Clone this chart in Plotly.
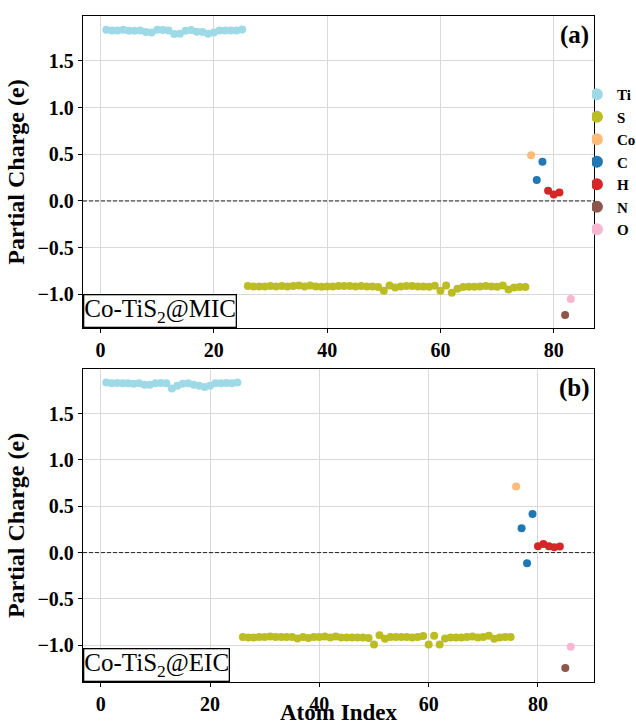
import plotly.graph_objects as go

# ---------------- data ----------------
elements = ["Ti", "S", "Co", "C", "H", "N", "O"]
colors = {"Ti": "#9edae5", "S": "#bcbd22", "Co": "#ffbb78", "C": "#1f77b4",
          "H": "#d62728", "N": "#8c564b", "O": "#f7b6d2"}

# Panel (a) Co-TiS2@MIC
a_ti_idx = list(range(1, 26))
a_ti = [1.833, 1.826, 1.826, 1.833, 1.822, 1.822, 1.826, 1.808, 1.804, 1.833,
        1.830, 1.826, 1.786, 1.790, 1.822, 1.830, 1.811, 1.808, 1.790, 1.804,
        1.826, 1.826, 1.826, 1.826, 1.836]
a_s_idx = list(range(26, 76))
a_s = [-0.911, -0.915, -0.915, -0.915, -0.911, -0.915, -0.911, -0.915, -0.911, -0.904,
       -0.915, -0.904, -0.915, -0.918, -0.915, -0.915, -0.911, -0.911, -0.911, -0.915,
       -0.911, -0.915, -0.915, -0.922, -0.961, -0.904, -0.926, -0.915, -0.911, -0.911,
       -0.915, -0.915, -0.918, -0.908, -0.961, -0.904, -0.983, -0.940, -0.922, -0.918,
       -0.918, -0.915, -0.911, -0.915, -0.918, -0.904, -0.947, -0.926, -0.922, -0.922]
a_co_idx = [76]
a_co = [0.49]
a_c_idx = [77, 78]
a_c = [0.225, 0.42]
a_h_idx = [79, 80, 81]
a_h = [0.11, 0.07, 0.09]
a_n_idx = [82]
a_n = [-1.22]
a_o_idx = [83]
a_o = [-1.05]

# Panel (b) Co-TiS2@EIC
b_ti_idx = list(range(1, 26))
b_ti = [1.833, 1.826, 1.830, 1.826, 1.826, 1.822, 1.826, 1.810, 1.810, 1.826,
        1.830, 1.826, 1.770, 1.800, 1.822, 1.826, 1.810, 1.800, 1.785, 1.800,
        1.826, 1.826, 1.830, 1.826, 1.833]
b_s_idx = list(range(26, 76))
b_s = [-0.910, -0.915, -0.915, -0.910, -0.910, -0.905, -0.910, -0.910, -0.910, -0.910,
       -0.925, -0.910, -0.920, -0.910, -0.910, -0.905, -0.915, -0.905, -0.915, -0.915,
       -0.915, -0.915, -0.915, -0.920, -0.990, -0.890, -0.930, -0.910, -0.910, -0.910,
       -0.910, -0.915, -0.910, -0.900, -0.990, -0.895, -0.990, -0.925, -0.915, -0.915,
       -0.915, -0.910, -0.905, -0.915, -0.910, -0.895, -0.930, -0.915, -0.910, -0.910]
b_co_idx = [76]
b_co = [0.712]
b_c_idx = [77, 78, 79]
b_c = [0.263, -0.114, 0.417]
b_h_idx = [80, 81, 82, 83, 84]
b_h = [0.069, 0.094, 0.069, 0.058, 0.065]
b_n_idx = [85]
b_n = [-1.244]
b_o_idx = [86]
b_o = [-1.014]

panel_a = {"Ti": (a_ti_idx, a_ti), "S": (a_s_idx, a_s), "Co": (a_co_idx, a_co),
           "C": (a_c_idx, a_c), "H": (a_h_idx, a_h), "N": (a_n_idx, a_n), "O": (a_o_idx, a_o)}
panel_b = {"Ti": (b_ti_idx, b_ti), "S": (b_s_idx, b_s), "Co": (b_co_idx, b_co),
           "C": (b_c_idx, b_c), "H": (b_h_idx, b_h), "N": (b_n_idx, b_n), "O": (b_o_idx, b_o)}

x_ticks = [0, 20, 40, 60, 80]
y_ticks = [-1.0, -0.5, 0.0, 0.5, 1.0, 1.5]

FONT = "Liberation Serif"

fig = go.Figure()
for el in elements:
    xs, ys = panel_a[el]
    fig.add_trace(go.Scatter(x=xs, y=ys, mode="markers", name=el,
                             marker=dict(color=colors[el], size=8, line=dict(width=0)),
                             xaxis="x", yaxis="y"))
for el in elements:
    xs, ys = panel_b[el]
    fig.add_trace(go.Scatter(x=xs, y=ys, mode="markers", name=el,
                             showlegend=False,
                             marker=dict(color=colors[el], size=8, line=dict(width=0)),
                             xaxis="x2", yaxis="y2"))

axis_common = dict(showline=True, mirror=True, linecolor="black", linewidth=1.3,
                   ticks="outside", ticklen=4, tickwidth=1, tickcolor="black",
                   showgrid=True, gridcolor="#d9d9d9", gridwidth=1, zeroline=False,
                   tickfont=dict(family=FONT, size=20, color="black", weight="bold"))

ytitle_font = dict(family=FONT, size=24, color="black", weight="bold")

fig.update_layout(
    width=636, height=727,
    margin=dict(l=83, r=42, t=16, b=45, autoexpand=False),
    plot_bgcolor="white", paper_bgcolor="white",
    font=dict(family=FONT, color="black"),
    xaxis=dict(domain=[0, 1], anchor="y", range=[-3.1, 87.1], tickvals=x_ticks, **axis_common),
    yaxis=dict(domain=[0.5315, 1], anchor="x", range=[-1.36, 1.98], tickvals=y_ticks,
               tickformat=".1f",
               title=dict(text="Partial Charge (e)", standoff=6, font=ytitle_font),
               **axis_common),
    xaxis2=dict(domain=[0, 1], anchor="y2", range=[-3.25, 90.25], tickvals=x_ticks,
                **axis_common),
    yaxis2=dict(domain=[0, 0.47], anchor="x2", range=[-1.395, 1.98], tickvals=y_ticks,
                tickformat=".1f",
                title=dict(text="Partial Charge (e)", standoff=6, font=ytitle_font),
                **axis_common),
    legend=dict(x=0.996, xanchor="left", y=0.907, yanchor="top", indentation=-15,
                bgcolor="rgba(0,0,0,0)", borderwidth=0, tracegroupgap=0,
                itemsizing="constant",
                font=dict(family=FONT, size=15, color="black", weight="bold")),
    showlegend=True,
)

# x-axis title of the lower panel
fig.add_annotation(xref="x2 domain", yref="paper", x=0.5, y=0, yshift=-45,
                   xanchor="center", yanchor="bottom", showarrow=False, text="Atom Index",
                   font=dict(family=FONT, size=23, color="black", weight="bold"))

for xr, yr in (("x", "y"), ("x2", "y2")):
    fig.add_shape(type="line", xref=f"{xr} domain", x0=0, x1=1, yref=yr, y0=0, y1=0,
                  line=dict(color="#222222", width=1, dash="4px,2px"), layer="above")

for xr, yr, lab in (("x", "y", "(a)"), ("x2", "y2", "(b)")):
    fig.add_annotation(xref=f"{xr} domain", yref=f"{yr} domain", x=0.961, y=0.94,
                       text=lab, showarrow=False, xanchor="center", yanchor="middle",
                       font=dict(family=FONT, size=25, color="black", weight="bold"))

for xr, yr, lab in (("x", "y", "Co-TiS<sub>2</sub>@MIC"), ("x2", "y2", "Co-TiS<sub>2</sub>@EIC")):
    fig.add_annotation(xref=f"{xr} domain", yref=f"{yr} domain", x=0, y=0,
                       text=lab, showarrow=False, xanchor="left", yanchor="bottom",
                       bordercolor="black", borderwidth=1.3, borderpad=0, bgcolor="white",
                       font=dict(family=FONT, size=25, color="black"))

fig.write_html("out.html")
